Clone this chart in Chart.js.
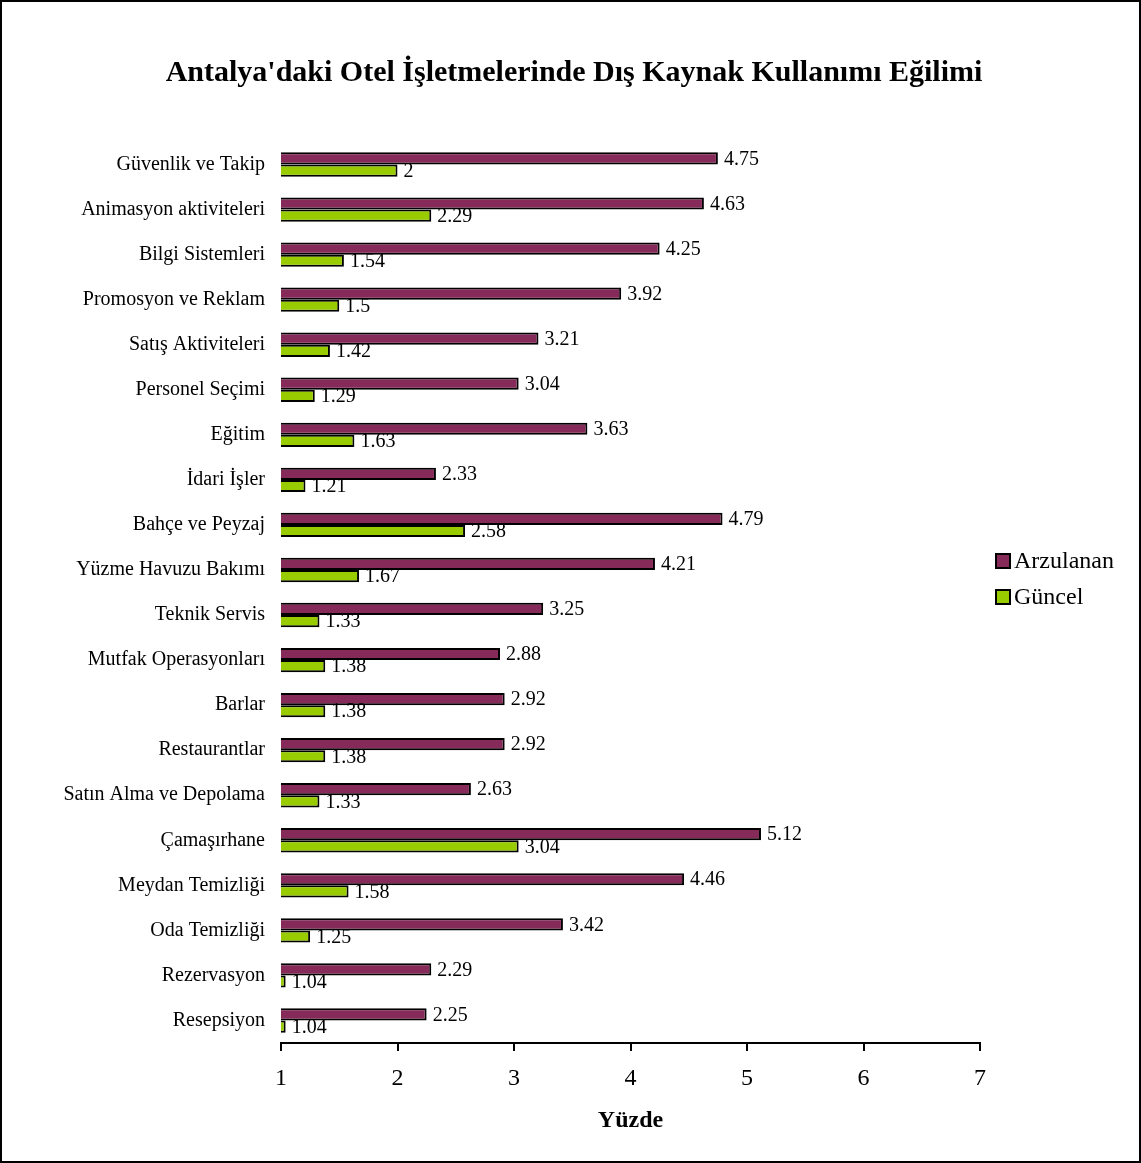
<!DOCTYPE html>
<html>
<head>
<meta charset="utf-8">
<script src="https://cdn.jsdelivr.net/npm/chart.js@4"></script>
<style>
  html, body { margin: 0; padding: 0; background: #fff; }
  #frame { width: 1141px; height: 1163px; box-sizing: border-box; border: 2px solid #000; }
  canvas { display: block; }
</style>
</head>
<body>
<div id="frame"><canvas id="c" width="1137" height="1159"></canvas></div>
<script>
/* ── data, top to bottom ── */
const categories = [
  'Güvenlik ve Takip', 'Animasyon aktiviteleri', 'Bilgi Sistemleri', 'Promosyon ve Reklam',
  'Satış Aktiviteleri', 'Personel Seçimi', 'Eğitim', 'İdari İşler', 'Bahçe ve Peyzaj',
  'Yüzme Havuzu Bakımı', 'Teknik Servis', 'Mutfak Operasyonları', 'Barlar', 'Restaurantlar',
  'Satın Alma ve Depolama', 'Çamaşırhane', 'Meydan Temizliği', 'Oda Temizliği',
  'Rezervasyon', 'Resepsiyon'
];
const arzulanan = [4.75, 4.63, 4.25, 3.92, 3.21, 3.04, 3.63, 2.33, 4.79, 4.21,
                   3.25, 2.88, 2.92, 2.92, 2.63, 5.12, 4.46, 3.42, 2.29, 2.25];
const guncel    = [2, 2.29, 1.54, 1.5, 1.42, 1.29, 1.63, 1.21, 2.58, 1.67,
                   1.33, 1.38, 1.38, 1.38, 1.33, 3.04, 1.58, 1.25, 1.04, 1.04];
const xTicks = [1, 2, 3, 4, 5, 6, 7];
const titleText = "Antalya'daki Otel İşletmelerinde Dış Kaynak Kullanımı Eğilimi";

const SERIF  = "'Liberation Serif', 'Times New Roman', serif";
const MAROON = '#862a5a';
const LIME   = '#99cc00';

Chart.defaults.font.family = SERIF;
Chart.defaults.color = '#000';

/* title, centred over the whole picture */
const topTitle = {
  id: 'topTitle',
  afterDraw(chart) {
    const ctx = chart.ctx;
    ctx.save();
    ctx.font = 'bold 30px ' + SERIF;
    ctx.fillStyle = '#000';
    ctx.textAlign = 'center';
    ctx.textBaseline = 'middle';
    ctx.fillText(titleText, 572, 71);
    ctx.restore();
  }
};

/* value labels right of each bar */
const valueLabels = {
  id: 'valueLabels',
  afterDatasetsDraw(chart) {
    const ctx = chart.ctx;
    ctx.save();
    ctx.font = '20px ' + SERIF;
    ctx.fillStyle = '#000';
    ctx.textAlign = 'left';
    ctx.textBaseline = 'middle';
    chart.data.datasets.forEach((ds, i) => {
      chart.getDatasetMeta(i).data.forEach((bar, j) => {
        ctx.fillText(String(ds.data[j]), bar.x + 6, bar.y + 1);
      });
    });
    ctx.restore();
  }
};

/* legend on the right, boxes with black border */
const sideLegend = {
  id: 'sideLegend',
  afterDraw(chart) {
    const ctx = chart.ctx;
    ctx.save();
    ctx.font = '24px ' + SERIF;
    ctx.textBaseline = 'middle';
    chart.data.datasets.forEach((ds, i) => {
      const y = 559 + i * 36;
      ctx.fillStyle = ds.backgroundColor;
      ctx.fillRect(994, y - 7, 14, 14);
      ctx.lineWidth = 2;
      ctx.strokeStyle = '#000';
      ctx.strokeRect(994, y - 7, 14, 14);
      ctx.fillStyle = '#000';
      ctx.fillText(ds.label, 1012, y + 1);
    });
    ctx.restore();
  }
};

new Chart(document.getElementById('c'), {
  type: 'bar',
  data: {
    labels: categories,
    datasets: [
      { label: 'Arzulanan', data: arzulanan, backgroundColor: MAROON,
        borderColor: '#000', borderWidth: 2, borderSkipped: false },
      { label: 'Güncel', data: guncel, backgroundColor: LIME,
        borderColor: '#000', borderWidth: 2, borderSkipped: false }
    ]
  },
  options: {
    indexAxis: 'y',
    responsive: false,
    animation: false,
    datasets: { bar: { categoryPercentage: 0.54, barPercentage: 1.0 } },
    layout: { padding: { left: 0, right: 159, top: 140, bottom: 26 } },
    plugins: {
      legend: { display: false },
      tooltip: { enabled: false },
      title: { display: false }
    },
    scales: {
      x: {
        min: 1, max: 7,
        afterBuildTicks: s => { s.ticks = xTicks.map(v => ({ value: v })); },
        afterFit: s => { s.height = 92; },
        grid: { display: true, drawOnChartArea: false, drawTicks: true,
                tickLength: 8, color: '#000', lineWidth: 2 },
        border: { display: true, color: '#000', width: 2 },
        ticks: { font: { size: 24, family: SERIF }, color: '#000', padding: 13 },
        title: { display: true, text: 'Yüzde', color: '#000',
                 font: { size: 24, weight: 'bold', family: SERIF },
                 padding: { top: 0, bottom: 0 } }
      },
      y: {
        afterFit: s => { s.width = 279; },
        grid: { display: false, drawTicks: false },
        border: { display: false },
        ticks: { font: { size: 20, family: SERIF }, color: '#000', padding: 16 }
      }
    }
  },
  plugins: [valueLabels, sideLegend, topTitle]
});
</script>
</body>
</html>
